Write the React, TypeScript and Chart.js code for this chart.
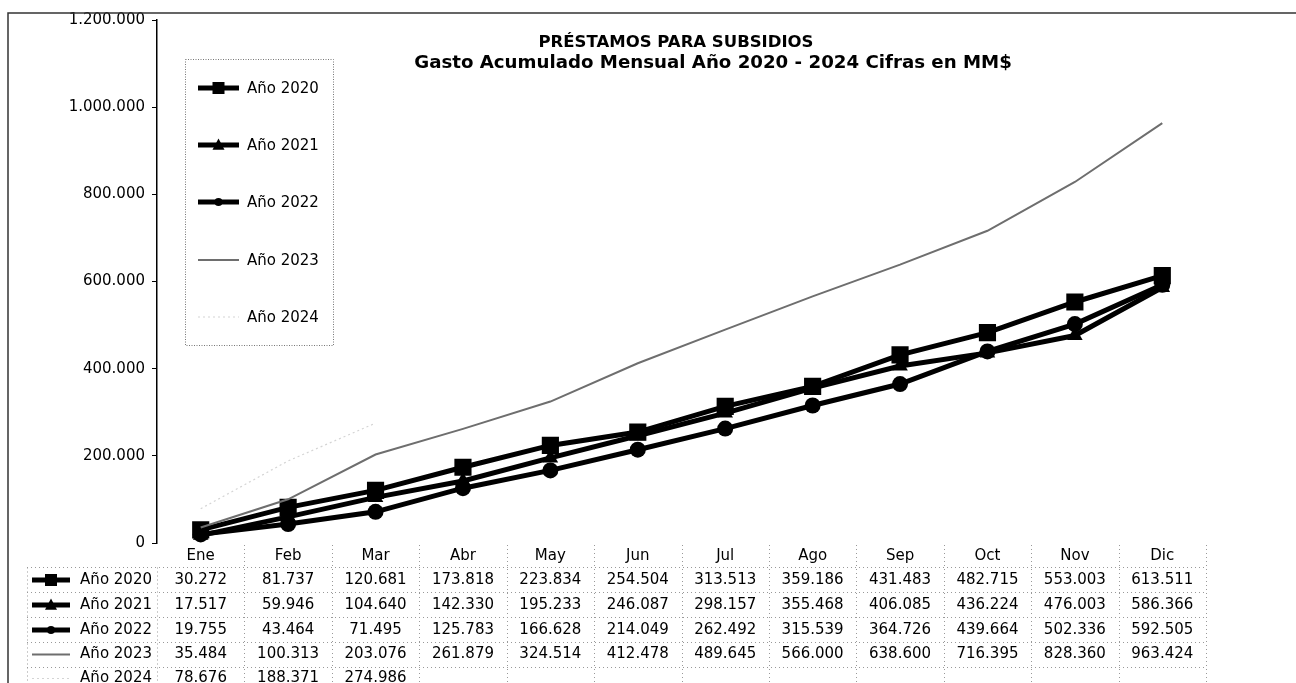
import React, { useEffect, useRef } from 'react';
import { Chart, registerables } from 'chart.js';

Chart.register(...registerables);

// ---------- data ----------
const months = ['Ene', 'Feb', 'Mar', 'Abr', 'May', 'Jun', 'Jul', 'Ago', 'Sep', 'Oct', 'Nov', 'Dic'];
const seriesNames = ['Año 2020', 'Año 2021', 'Año 2022', 'Año 2023', 'Año 2024'];
const v2020 = [30272, 81737, 120681, 173818, 223834, 254504, 313513, 359186, 431483, 482715, 553003, 613511];
const v2021 = [17517, 59946, 104640, 142330, 195233, 246087, 298157, 355468, 406085, 436224, 476003, 586366];
const v2022 = [19755, 43464, 71495, 125783, 166628, 214049, 262492, 315539, 364726, 439664, 502336, 592505];
const v2023 = [35484, 100313, 203076, 261879, 324514, 412478, 489645, 566000, 638600, 716395, 828360, 963424];
const v2024 = [78676, 188371, 274986, null, null, null, null, null, null, null, null, null];
const yMin = 0;
const yMax = 1200000;
const yStep = 200000;
const titleLine1 = 'PRÉSTAMOS PARA SUBSIDIOS';
const titleLine2 = 'Gasto Acumulado Mensual Año 2020 - 2024 Cifras en MM$';

const seriesValues = [v2020, v2021, v2022, v2023, v2024];

// ---------- styles ----------
type St = { color: string; width: number; point: string | false; r: number; lr: number; dash: number[] };
const styles: St[] = [
  { color: '#000', width: 5, point: 'rect', r: 11, lr: 6, dash: [] },
  { color: '#000', width: 5, point: 'triangle', r: 9, lr: 6, dash: [] },
  { color: '#000', width: 5, point: 'circle', r: 8, lr: 4, dash: [] },
  { color: '#6e6e6e', width: 2, point: false, r: 0, lr: 0, dash: [] },
  { color: '#d4d4d4', width: 1.2, point: false, r: 0, lr: 0, dash: [2, 3] },
];

const FONT = '"DejaVu Sans", Verdana, sans-serif';

const fmt = (v: number) => String(Math.round(v)).replace(/\B(?=(\d{3})+(?!\d))/g, '.');

function drawMarker(ctx: CanvasRenderingContext2D, kind: string | false, x: number, y: number, r: number) {
  if (!kind || r <= 0) return;
  ctx.fillStyle = '#000';
  ctx.beginPath();
  if (kind === 'rect') {
    ctx.rect(x - r, y - r, 2 * r, 2 * r);
  } else if (kind === 'triangle') {
    ctx.moveTo(x, y - r * 1.1);
    ctx.lineTo(x + r, y + r * 0.8);
    ctx.lineTo(x - r, y + r * 0.8);
    ctx.closePath();
  } else {
    ctx.arc(x, y, r, 0, Math.PI * 2);
  }
  ctx.fill();
}

function drawKey(ctx: CanvasRenderingContext2D, x1: number, x2: number, y: number, st: St) {
  ctx.save();
  ctx.strokeStyle = st.color;
  ctx.lineWidth = st.width;
  ctx.setLineDash(st.dash);
  ctx.beginPath();
  ctx.moveTo(x1, y);
  ctx.lineTo(x2, y);
  ctx.stroke();
  ctx.setLineDash([]);
  drawMarker(ctx, st.point, (x1 + x2) / 2, y, st.lr);
  ctx.restore();
}

function dotted(ctx: CanvasRenderingContext2D, x1: number, y1: number, x2: number, y2: number) {
  ctx.beginPath();
  ctx.moveTo(x1, y1);
  ctx.lineTo(x2, y2);
  ctx.stroke();
}

const decor = {
  id: 'decor',
  afterDraw(chart: any) {
    const ctx: CanvasRenderingContext2D = chart.ctx;
    const ca = chart.chartArea;
    const xs = chart.scales.x;
    ctx.save();

    // outer frame (left + top)
    ctx.strokeStyle = '#333';
    ctx.lineWidth = 1.5;
    ctx.beginPath();
    ctx.moveTo(8, chart.height);
    ctx.lineTo(8, 13);
    ctx.lineTo(chart.width, 13);
    ctx.stroke();

    // title
    ctx.fillStyle = '#000';
    ctx.textAlign = 'center';
    ctx.textBaseline = 'middle';
    ctx.font = `bold 16.5px ${FONT}`;
    ctx.fillText(titleLine1, 676, 43);
    ctx.font = `bold 18.2px ${FONT}`;
    ctx.fillText(titleLine2, 713, 63);

    // legend box
    ctx.strokeStyle = '#777';
    ctx.lineWidth = 1;
    ctx.setLineDash([1, 1.5]);
    ctx.strokeRect(185.5, 59.5, 148, 286);
    ctx.setLineDash([]);
    const legY = [88, 145, 202, 260, 317];
    ctx.font = `15px ${FONT}`;
    ctx.textAlign = 'left';
    seriesNames.forEach((n, i) => {
      drawKey(ctx, 198, 239, legY[i], styles[i]);
      ctx.fillStyle = '#000';
      ctx.fillText(n, 247, legY[i] + 1);
    });

    // data table
    const colW = (ca.right - ca.left) / months.length;
    const top = ca.bottom;
    const rowLines = [567.5, 592.5, 617.5, 642.5, 667.5];
    const rowCenters = [580, 605, 630, 654.5, 678.5];
    const bottom = chart.height;
    ctx.strokeStyle = '#999';
    ctx.lineWidth = 1;
    ctx.setLineDash([1, 3]);
    rowLines.forEach((y) => dotted(ctx, 27, y, ca.right, y));
    dotted(ctx, 27.5, rowLines[0], 27.5, bottom);
    dotted(ctx, ca.left + 0.5, rowLines[0], ca.left + 0.5, bottom);
    for (let i = 1; i <= months.length; i++) {
      const x = Math.round(ca.left + i * colW) + 0.5;
      dotted(ctx, x, top + 2, x, bottom);
    }
    ctx.setLineDash([]);

    ctx.fillStyle = '#000';
    ctx.font = `15px ${FONT}`;
    ctx.textAlign = 'center';
    months.forEach((m, i) => {
      ctx.fillText(m, xs.getPixelForValue(i), 556);
    });
    seriesNames.forEach((n, r) => {
      const y = rowCenters[r];
      drawKey(ctx, 32, 70, y, styles[r]);
      ctx.fillStyle = '#000';
      ctx.textAlign = 'right';
      ctx.fillText(n, 152, y);
      ctx.textAlign = 'center';
      seriesValues[r].forEach((v, i) => {
        if (v === null || v === undefined) return;
        ctx.fillText(fmt(v as number), xs.getPixelForValue(i), y);
      });
    });

    ctx.restore();
  },
};

export default function App() {
  const ref = useRef<HTMLCanvasElement | null>(null);

  useEffect(() => {
    if (!ref.current) return;
    Chart.defaults.font.family = FONT;
    const datasets = seriesNames.map((name, i) => {
      const st = styles[i];
      return {
        label: name,
        data: seriesValues[i],
        borderColor: st.color,
        backgroundColor: st.color,
        borderWidth: st.width,
        borderDash: st.dash,
        pointStyle: st.point === false ? 'circle' : st.point,
        pointRadius: st.point === 'rect' ? st.r * Math.SQRT2 * 0.78 : st.r,
        pointBackgroundColor: '#000',
        pointBorderColor: '#000',
        pointBorderWidth: 0,
        pointHoverRadius: st.r,
        tension: 0,
        fill: false,
        spanGaps: false,
        order: 5 - i,
      };
    });
    const chart = new Chart(ref.current, {
      type: 'line',
      data: { labels: months, datasets: datasets as any },
      options: {
        responsive: false,
        animation: false,
        devicePixelRatio: 1,
        layout: { padding: { left: 0, right: 90, top: 20, bottom: 140 } },
        plugins: {
          legend: { display: false },
          title: { display: false },
          tooltip: { enabled: false },
        },
        scales: {
          x: {
            type: 'category',
            offset: true,
            display: false,
          },
          y: {
            min: yMin,
            max: yMax,
            ticks: {
              stepSize: yStep,
              color: '#000',
              padding: 7,
              font: { size: 15, family: FONT },
              callback: (v: any) => fmt(Number(v)),
            },
            grid: { drawOnChartArea: false, drawTicks: true, tickLength: 5, color: '#000', lineWidth: 1 },
            border: { display: true, color: '#000', width: 1.5 },
            afterFit: (scale: any) => {
              scale.width = 157;
            },
          },
        },
      },
      plugins: [decor],
    });
    return () => chart.destroy();
  }, []);

  return (
    <div style={{ position: 'absolute', left: 0, top: 0, width: 1296, height: 683, background: '#fff' }}>
      <canvas ref={ref} width={1296} height={683} style={{ width: 1296, height: 683, display: 'block' }} />
    </div>
  );
}
